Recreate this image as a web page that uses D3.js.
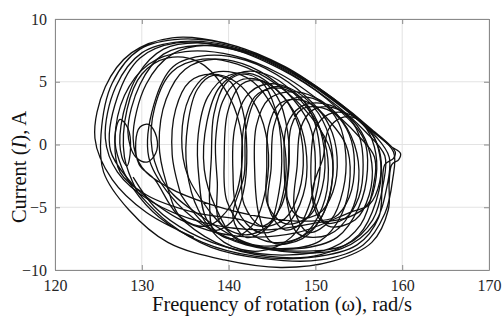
<!DOCTYPE html>
<html><head><meta charset="utf-8">
<script src="https://cdn.jsdelivr.net/npm/d3@7"></script>
<style>body{margin:0;background:#fff}svg{display:block}</style>
</head><body><svg id="c" width="502" height="323"></svg>
<script>
const xTicks = [120,130,140,150,160,170];
const yTicks = [-10,-5,0,5,10];
const xLabel = "Frequency of rotation (\u03c9), rad/s";

// trajectory in (omega, I) pairs, split into segments
const outerLoops = [
[136,-7.4],[130.5,-5.4],[126.6,-2.8],
[124.6,0.5],[125.8,4.6],[128.8,7.3],[133.5,8.5],[139.5,8.1],[145.5,6.5],[151,4.1],[155.5,1.7],[158.6,-0.1],[159.8,-0.7],[159.6,-1.2],[158.8,-1.6],[158.5,-3.0],[158.4,-5.2],[156.5,-7.8],[152,-9.3],[146,-9.8],[139.5,-9.2],[133,-7.8],[128.5,-5.2],[125.6,-2.2],
[125.3,0.8],[126.6,4.9],[129.8,7.6],[134.5,8.4],[140.5,7.9],[146.5,6.2],[152,3.7],[156.5,1.2],[159.2,-0.6],[159.0,-1.1],[158.0,-1.6],[157.7,-3.2],[157.3,-5.8],[154.8,-8.0],[149.5,-9.0],[143,-8.9],[137,-7.8],[132,-5.8],[129,-3.5],
[127.4,-1.3],[126.9,0.6],[127.5,2.0],[128.4,1.3],[128.7,-0.3],[128.3,-1.7],[127.7,-1.0],
[127.6,1.5],[129.5,5.5],[132.5,7.6],[136.5,8.1],[142,7.4],[147.5,5.6],[153,3.0],[157,0.6],[158.5,-1.0],[158.2,-3.5],[156.8,-6.3],[153,-8.3],[147.5,-8.6],[142,-7.8],[137,-5.8],
[133,-3.5],[131.2,-0.5],[131.5,3.0],[133.5,5.8],[137,6.8],[141,6.4],[145.5,4.8],[149.5,2.2],[151.8,-0.6],[151.8,-3.5],[150,-6.5],[146,-8.0],[141.5,-7.7],[138,-5.5]
];
const innerLoopsA = [
[138,-5.5],[135.3,-2.5],[134.6,0.5],[135.5,3.8],[137.5,5.5],[140,5.8],[142.8,5.0],[145.2,2.8],[146.5,-0.3],[146.4,-3.5],[145,-6.2],[142,-7.2],[139,-6.2],
[138.7,-3.0],[138.5,0.3],[139.3,3.4],[141,5.0],[143.3,5.2],[145.8,4.2],[147.8,2.0],[148.6,-0.8],[148.1,-3.8],[146.5,-5.9],[143.8,-6.5],[141.8,-4.8],
[141.5,-1.8],[141.8,1.6],[143,3.8],[145,4.5],[147.5,4.1],[149.8,2.4],[151,-0.3],[150.8,-3.4],[149.3,-5.7],[146.5,-6.3],[144.5,-4.8],
[144.4,-1.8],[144.6,1.4],[145.8,3.2],[147.6,3.6],[149.8,3.1],[151.6,1.5],[152.5,-1.0],[152.0,-3.8],[150.4,-5.5],[148.2,-5.8],[146.8,-4.4],
[146.9,-1.6],[147.2,1.4],[148.4,2.8],[150.2,3.0],[152.3,2.4],[153.9,0.8],[154.5,-1.5],[153.9,-4.2],[152.2,-5.8],[149.5,-6.1],[144,-5.8],[138,-4.8],[133,-3.4],[130,-1.8],
[129.0,0.5],[130.5,4.8],[133.5,7.2],[137.5,7.9],[143,7.2],[148.5,5.3],[153.5,2.8],[156.8,0.5],[157.6,-1.5],[157.0,-4.5],[155,-7.2],[150.5,-8.8],[144.5,-8.9],[138.5,-7.8],[134,-5.5],[131.5,-2.8],
[129.7,-1.6],[129.3,0.2],[129.8,1.4],[130.8,1.6],[131.7,0.6],[131.6,-0.7],[130.6,-1.4],[129.3,-1.0],
[128.4,1.0],[129.8,4.8],[132.5,7.2],[136.5,7.9],[142,7.3],[147.5,5.5],[152.5,2.9],[155.6,0.4],[156.0,-2.0],[155.0,-5.0],[152.5,-7.4],[148,-8.3],[142.5,-8.0],[137.5,-6.5],[134.5,-4.0]
];
const innerLoopsB = [
[134.5,-4.0],[133.5,-0.8],[133.9,2.8],[135.5,5.0],[138,5.6],[140.8,5.0],[143.2,3.0],[144.5,0.0],[144.3,-3.5],[142.8,-6.4],[140,-7.5],[137.5,-6.0],
[136.6,-2.8],[136.5,0.8],[137.6,3.8],[140,5.5],[142.8,5.6],[145.6,4.3],[148,2.0],[149,-1.0],[148.6,-4.0],[146.8,-6.3],[143.5,-7.0],[141,-5.2],
[140.5,-2.2],[140.7,1.3],[142,3.8],[144.2,4.8],[147,4.5],[149.8,3.0],[151.6,0.6],[152.0,-2.4],[151.0,-5.4],[148.5,-7.5],[145,-7.8],[143.5,-5.6],
[143.0,-2.0],[143.2,1.5],[144.6,3.6],[147,4.2],[149.8,3.8],[152.5,2.4],[154.5,0.0],[155.0,-2.8],[154,-5.5],[151.5,-7.2],[148,-7.1],[146.8,-4.8],
[146.4,-1.6],[146.7,1.5],[148.3,3.0],[150.5,3.3],[153,2.7],[155.3,1.0],[156.5,-1.5],[156.2,-4.0],[154.6,-6.0],[151.5,-6.5],[149.8,-4.4],
[149.5,-1.2],[150.0,1.3],[151.5,2.4],[153.5,2.5],[155.5,1.6],[156.8,-0.2],[157.0,-2.6],[156.0,-4.8],[153.8,-5.8],[150.5,-6.2],[144,-6.8],[137,-6.2],[131,-4.5],[127.2,-2.2],
[125.8,0.5],[127.0,4.6],[130.0,7.3],[134.5,8.2],[140.5,7.8],[146.5,6.1],[152,3.7],[156.5,1.1],[159.0,-0.6],[158.9,-2.8],[158.0,-5.5],[155.5,-8.0],[150.5,-9.2],[144,-9.1],[138,-8.2],[133,-6.2],[129.5,-3.8]
];
const innerLoopsC = [
[129.5,-3.8],[128.0,-1.0],[128.3,2.8],[130,5.6],[133,6.9],[136.5,6.6],[139.5,4.5],[141.3,1.5],[141.5,-1.8],[140.3,-4.8],[137.5,-6.5],[134.5,-5.8],[132.8,-3.0],
[132.0,0.0],[132.8,3.6],[135,6.0],[138.5,6.8],[142.5,6.2],[146.5,4.3],[149.3,1.6],[150,-1.5],[149.4,-4.6],[147.2,-7.4],[143.5,-8.5],[139.5,-7.8],[136.5,-5.2],
[135.2,-2.0],[135.3,1.6],[136.4,4.4],[138.2,5.5],[140.2,5.0],[141.6,2.8],[142.1,-0.5],[141.7,-3.8],[140.3,-6.2],[138.3,-6.8],[137.8,-4.5],
[138.0,-1.2],[138.3,2.4],[139.6,4.8],[141.6,5.6],[143.8,5.0],[145.4,2.8],[146.1,-0.4],[145.8,-3.8],[144.5,-6.6],[142,-7.4],[140.5,-5.8],
[141.8,-2.4],[142.0,1.2],[143.2,3.7],[145.2,4.6],[147.5,4.2],[149.5,2.5],[150.5,-0.3],[150.3,-3.3],[149,-5.9],[146.5,-6.8],[144.6,-5.0],
[144.9,-1.9],[145.2,1.4],[146.5,3.3],[148.6,3.8],[150.8,3.3],[152.7,1.7],[153.5,-0.8],[153.2,-3.6],[151.8,-6.0],[149.2,-7.0],[147.6,-5.2],
[147.9,-1.7],[148.3,1.3],[149.6,2.7],[151.5,3.0],[153.5,2.4],[155,0.8],[155.5,-1.6],[155.0,-4.2],[153.4,-5.9],[150.9,-6.2],[149.6,-4.0],
[150.9,-1.0],[151.5,1.2],[152.9,2.1],[154.6,2.1],[156.4,1.0],[157.4,-0.8],[157.4,-3.0],[156.2,-4.8],[154,-5.4],[148,-7.0],[141,-7.3],[134.5,-6.0],[129.5,-3.6]
];
const innerLoopsD = [
[129.5,-3.6],[126.4,-0.5],[127.2,3.8],[129.8,6.9],[134,8.1],[140,7.7],[146,6.0],[151.5,3.6],[155.8,1.0],[158,-0.9],[157.8,-3.2],[156.6,-6.0],[153.5,-8.0],[148,-8.5],[142,-8.0],[137,-6.4],[133.2,-4.0],
[130.8,-1.0],[131.4,3.2],[133.6,6.2],[137.5,7.1],[142,6.7],[146.8,5.0],[150.8,2.5],[153.5,0.0],[154.0,-2.5],[153.0,-5.6],[150.5,-7.7],[146,-8.3],[141,-7.6],[138.5,-5.0],
[137.2,-2.0],[137.5,1.8],[139,4.6],[141.8,5.8],[145,5.4],[148.2,3.6],[150.7,1.0],[151.5,-2.0],[150.8,-5.0],[148.5,-7.3],[145,-7.8],[142,-6.8],
[139.8,-4.5],[139.5,-1.0],[139.9,2.6],[141.5,4.8],[143.6,5.1],[145.6,3.8],[146.8,1.0],[146.9,-2.2],[146,-5.0],[144,-6.5],[141.5,-6.0],[136,-5.4],[130.5,-4.0],[127.5,-2.2],
[126.9,0.3],[128.0,3.9],[130.8,6.4],[135,7.4],[140.5,7.1],[146,5.6],[151,3.2],[154.8,0.8],[156.8,-1.0],[156.6,-3.6],[155.2,-6.4],[152,-8.2],[147,-8.8],[141,-8.4],[135.5,-7.0],[131.5,-5.0],[129,-2.6]
];
const segments = [outerLoops, innerLoopsA, innerLoopsB, innerLoopsC, innerLoopsD];

const W = 502, H = 323;
const m = {left:55, right:13, top:19, bottom:53};
const svg = d3.select("#c");
const x = d3.scaleLinear().domain([120,170]).range([m.left, W - m.right]);
const y = d3.scaleLinear().domain([-10,10]).range([H - m.bottom, m.top]);
const font = "'Liberation Serif','Times New Roman',serif";

// grid
const g = svg.append("g");
g.selectAll(".gx").data(xTicks).join("line")
  .attr("x1", d=>x(d)).attr("x2", d=>x(d)).attr("y1", y(-10)).attr("y2", y(10))
  .attr("stroke", "#e3e3e3").attr("stroke-width", 1);
g.selectAll(".gy").data(yTicks).join("line")
  .attr("y1", d=>y(d)).attr("y2", d=>y(d)).attr("x1", x(120)).attr("x2", x(170))
  .attr("stroke", "#e3e3e3").attr("stroke-width", 1);

// trajectory
const line = d3.line().x(d=>x(d[0])).y(d=>y(d[1])).curve(d3.curveCatmullRom.alpha(0.5));
svg.append("g").selectAll("path").data(segments).join("path")
  .attr("d", line).attr("fill", "none").attr("stroke", "#111").attr("stroke-width", 1.3)
  .attr("stroke-linejoin", "round");

// axes (box with inward ticks)
const axCol = "#8a8a8a";
const mk = (ax, tr) => {
  const a = svg.append("g").attr("transform", tr).call(ax);
  a.select(".domain").attr("stroke", axCol);
  a.selectAll(".tick line").attr("stroke", axCol);
  a.selectAll("text").attr("fill", "#262626").style("font-family", font).style("font-size", "16px");
  return a;
};
mk(d3.axisBottom(x).tickValues(xTicks).tickSizeInner(-5).tickSizeOuter(0).tickPadding(10), `translate(0,${y(-10)})`);
mk(d3.axisLeft(y).tickValues(yTicks).tickSizeInner(-5).tickSizeOuter(0).tickPadding(8), `translate(${x(120)},0)`);
mk(d3.axisTop(x).tickValues(xTicks).tickSizeInner(-5).tickSizeOuter(0).tickFormat(""), `translate(0,${y(10)})`);
mk(d3.axisRight(y).tickValues(yTicks).tickSizeInner(-5).tickSizeOuter(0).tickFormat(""), `translate(${x(170)},0)`);

// titles
svg.append("text").attr("x", 282).attr("y", 311)
  .attr("text-anchor", "middle").style("font-family", font).style("font-size", "20.5px").attr("fill", "#111")
  .text(xLabel);
const yt = svg.append("text").attr("transform", `translate(26,167) rotate(-90)`)
  .attr("text-anchor", "middle").style("font-family", font).style("font-size", "20.5px").attr("fill", "#111");
yt.append("tspan").text("Current (");
yt.append("tspan").style("font-style", "italic").text("I");
yt.append("tspan").text("), A");
</script></body></html>
